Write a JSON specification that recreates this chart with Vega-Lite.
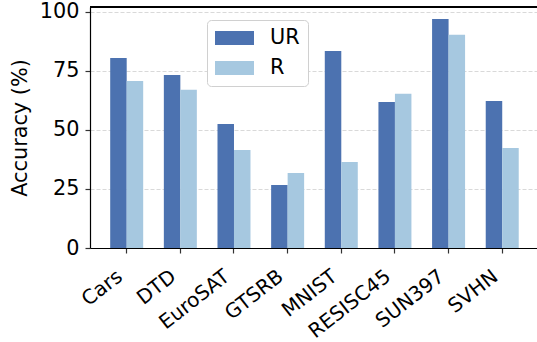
{
  "$schema": "https://vega.github.io/schema/vega-lite/v6.json",
  "autosize": "none",
  "padding": {"left": 90, "top": 7, "right": 0, "bottom": 94},
  "width": 447,
  "height": 241,
  "background": "white",
  "config": {
    "view": {"stroke": null},
    "font": "DejaVu Sans",
    "axis": {
      "labelFont": "DejaVu Sans",
      "titleFont": "DejaVu Sans",
      "labelColor": "black",
      "titleColor": "black",
      "domainColor": "black",
      "tickColor": "#333333",
      "domainWidth": 1.2,
      "tickWidth": 1.2
    }
  },
  "data": {
    "values": [
      {"dataset": "Cars", "method": "UR", "acc": 80.5},
      {"dataset": "Cars", "method": "R", "acc": 70.8},
      {"dataset": "DTD", "method": "UR", "acc": 73.3},
      {"dataset": "DTD", "method": "R", "acc": 67.0},
      {"dataset": "EuroSAT", "method": "UR", "acc": 52.5},
      {"dataset": "EuroSAT", "method": "R", "acc": 41.5},
      {"dataset": "GTSRB", "method": "UR", "acc": 26.7},
      {"dataset": "GTSRB", "method": "R", "acc": 31.8},
      {"dataset": "MNIST", "method": "UR", "acc": 83.5},
      {"dataset": "MNIST", "method": "R", "acc": 36.4},
      {"dataset": "RESISC45", "method": "UR", "acc": 61.9},
      {"dataset": "RESISC45", "method": "R", "acc": 65.3},
      {"dataset": "SUN397", "method": "UR", "acc": 97.0},
      {"dataset": "SUN397", "method": "R", "acc": 90.3},
      {"dataset": "SVHN", "method": "UR", "acc": 62.3},
      {"dataset": "SVHN", "method": "R", "acc": 42.4}
    ]
  },
  "layer": [
    {
      "mark": {"type": "bar"},
      "encoding": {
        "x": {
          "field": "dataset",
          "type": "nominal",
          "sort": null,
          "scale": {"paddingInner": 0.385, "paddingOuter": 0.3586, "align": 0.525, "round": false},
          "axis": {
            "title": null,
            "labelAngle": -38,
            "labelAlign": "right",
            "labelBaseline": "middle",
            "labelFontSize": 20,
            "labelPadding": 20.8,
            "labelOffset": -6.7,
            "tickSize": 5,
            "grid": false
          }
        },
        "xOffset": {
          "field": "method",
          "type": "nominal",
          "sort": ["UR", "R"],
          "scale": {"paddingInner": 0, "paddingOuter": 0}
        },
        "y": {
          "field": "acc",
          "type": "quantitative",
          "scale": {"domain": [0, 102.1], "nice": false, "zero": true},
          "axis": {
            "title": "Accuracy (%)",
            "titleFontSize": 20.8,
            "titleFontWeight": "normal",
            "titlePadding": 9,
            "labelFontSize": 20.8,
            "labelPadding": 6,
            "values": [0, 25, 50, 75, 100],
            "tickSize": 5,
            "grid": true,
            "gridColor": "#cfcfcf",
            "gridDash": [4, 2],
            "gridWidth": 0.8
          }
        },
        "color": {
          "field": "method",
          "type": "nominal",
          "sort": ["UR", "R"],
          "scale": {"domain": ["UR", "R"], "range": ["#4c72b0", "#a6c8e0"]},
          "legend": {
            "title": null,
            "orient": "none",
            "legendX": 117,
            "legendY": 13,
            "fillColor": "white",
            "strokeColor": "#d0d0d0",
            "cornerRadius": 4,
            "padding": 8,
            "labelFont": "DejaVu Sans",
            "labelFontSize": 20.8,
            "labelColor": "black",
            "labelOffset": 16,
            "symbolType": "M-1,-0.36H1V0.36H-1Z",
            "symbolSize": 1521,
            "symbolStrokeWidth": 0,
            "symbolOpacity": 1,
            "clipHeight": 20,
            "rowPadding": 9
          }
        }
      }
    },
    {
      "mark": {"type": "rule", "color": "black", "strokeWidth": 1.2},
      "encoding": {"y": {"datum": 102.1}}
    }
  ]
}
